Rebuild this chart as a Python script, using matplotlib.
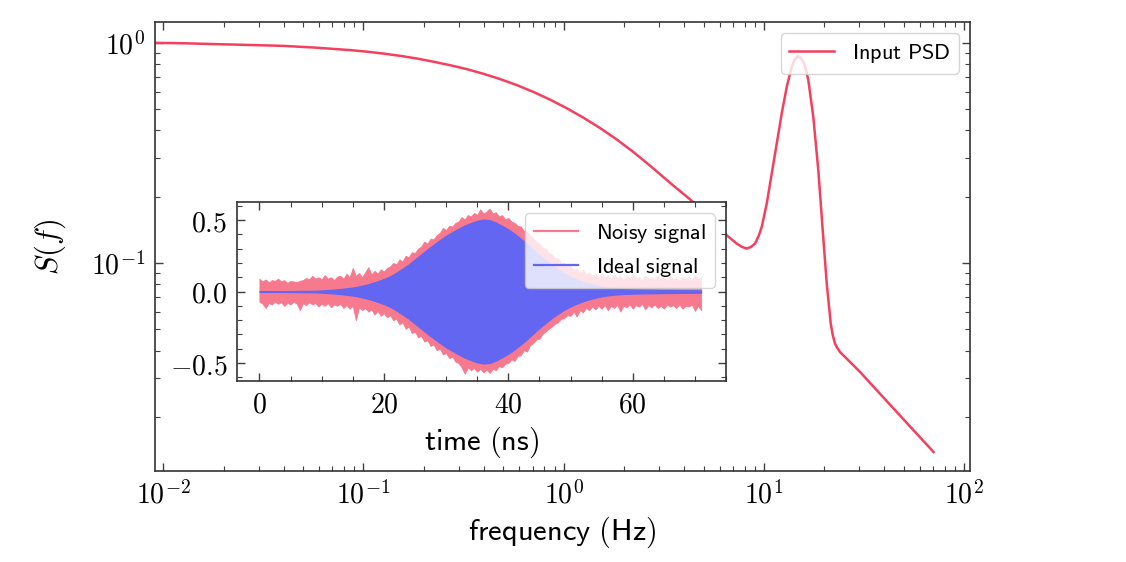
import numpy as np
import matplotlib
matplotlib.use("Agg")
import matplotlib.pyplot as plt
from matplotlib.lines import Line2D
from matplotlib.ticker import FuncFormatter, NullFormatter, AutoMinorLocator

plt.rcParams["mathtext.fontset"] = "cm"

ROSE = "#f43f5e"
ROSE_LIGHT = "#f7798e"
INDIGO = "#6366f1"

# Input PSD
freq_hz = [0.00912, 0.01288, 0.01854, 0.0272, 0.03988, 0.0585, 0.0858, 0.104, 0.1258, 0.1525,
           0.1848, 0.2236, 0.2710, 0.3283, 0.3973, 0.4814, 0.5832, 0.706, 0.855, 1.036,
           1.254, 1.519, 1.841, 2.228, 2.700, 3.398, 4.277, 5.08, 5.77, 6.52,
           7.31, 7.75, 8.21, 8.62, 9.03, 9.40, 9.75, 10.33, 10.94, 11.59,
           12.27, 13.00, 13.77, 14.25, 14.75, 15.24, 15.73, 16.23, 16.66, 17.64,
           18.69, 19.66, 20.59, 21.56, 22.08, 22.65, 23.31, 23.99, 30.18, 40.24,
           53.63, 70.36]
psd = [1.000, 0.9954, 0.9865, 0.978, 0.969, 0.9506, 0.927, 0.912, 0.894, 0.873,
       0.849, 0.821, 0.7916, 0.7595, 0.7236, 0.6846, 0.6427, 0.5984, 0.5521, 0.5047,
       0.4571, 0.4102, 0.3639, 0.3192, 0.2767, 0.2312, 0.1945, 0.1671, 0.150, 0.1336,
       0.1225, 0.1184, 0.1162, 0.1183, 0.1225, 0.1322, 0.1457, 0.1862, 0.255, 0.349,
       0.4777, 0.631, 0.778, 0.839, 0.870, 0.856, 0.820, 0.751, 0.677, 0.461,
       0.2638, 0.1408, 0.0806, 0.0530, 0.0469, 0.0430, 0.04095, 0.0394, 0.0320, 0.02404,
       0.01809, 0.01383]

# Inset: envelope of the ideal pulse, one value per ns
ideal_t_ns = list(range(72))
ideal_env = [0.003, 0.003, 0.003, 0.003, 0.003, 0.004, 0.004, 0.005, 0.005, 0.006,
             0.008, 0.011, 0.014, 0.018, 0.023, 0.028, 0.036, 0.046, 0.058, 0.072,
             0.088, 0.106, 0.132, 0.16, 0.19, 0.225, 0.26, 0.295, 0.328, 0.36,
             0.39, 0.415, 0.44, 0.462, 0.48, 0.495, 0.504, 0.5, 0.483, 0.46,
             0.435, 0.405, 0.37, 0.335, 0.295, 0.255, 0.22, 0.185, 0.155, 0.127,
             0.104, 0.085, 0.068, 0.055, 0.043, 0.034, 0.027, 0.022, 0.019, 0.016,
             0.015, 0.014, 0.013, 0.013, 0.012, 0.011, 0.011, 0.010, 0.010, 0.009,
             0.009, 0.008]

# Inset: extent of the noisy signal, every 0.5 ns
noisy_t_ns = [i * 0.5 for i in range(143)]
noisy_upper = [0.09, 0.07, 0.085, 0.065, 0.08, 0.075, 0.09, 0.07, 0.08, 0.06, 0.075, 0.07, 0.065,
               0.075, 0.08, 0.095, 0.085, 0.11, 0.09, 0.1, 0.085, 0.115, 0.09, 0.1, 0.08, 0.105,
               0.11, 0.09, 0.125, 0.1, 0.165, 0.11, 0.13, 0.1, 0.135, 0.17, 0.12, 0.145, 0.125, 0.155,
               0.14, 0.165,
               0.175, 0.2, 0.19, 0.225, 0.21, 0.25,
               0.24, 0.275, 0.27, 0.3, 0.315, 0.35, 0.335, 0.37, 0.365, 0.395,
               0.41, 0.445, 0.43, 0.46, 0.455, 0.48,
               0.49, 0.52, 0.505, 0.535, 0.525, 0.55, 0.535, 0.575, 0.545, 0.56,
               0.58, 0.545, 0.555, 0.525, 0.535, 0.505, 0.515, 0.49,
               0.48, 0.46, 0.455, 0.425, 0.42, 0.39, 0.375, 0.35, 0.335, 0.31, 0.3,
               0.27, 0.26, 0.235, 0.23, 0.2, 0.2, 0.175, 0.18, 0.15, 0.16,
               0.13, 0.155, 0.12, 0.135, 0.11, 0.125, 0.1, 0.13, 0.095, 0.115,
               0.09, 0.12, 0.095, 0.105, 0.085, 0.11, 0.09, 0.125, 0.095, 0.1,
               0.08, 0.11, 0.09, 0.1, 0.085, 0.115, 0.09, 0.1, 0.08, 0.11,
               0.085, 0.095, 0.08, 0.105, 0.09, 0.1, 0.08, 0.115, 0.09, 0.1]
noisy_lower = [-0.07, -0.085, -0.115, -0.08, -0.09, -0.07, -0.085, -0.075, -0.1, -0.08, -0.09, -0.07, -0.085,
               -0.13, -0.08, -0.095, -0.075, -0.09, -0.08, -0.105, -0.085, -0.1, -0.08, -0.11, -0.09, -0.1,
               -0.085, -0.115, -0.095, -0.12, -0.1, -0.2, -0.11, -0.13, -0.115, -0.14, -0.125, -0.16,
               -0.135, -0.17, -0.15, -0.18,
               -0.165, -0.2, -0.19, -0.23, -0.215, -0.26,
               -0.245, -0.29, -0.28, -0.32, -0.31, -0.35, -0.34, -0.38, -0.37, -0.41,
               -0.4, -0.44, -0.43, -0.465, -0.455, -0.49,
               -0.5, -0.53, -0.575, -0.53, -0.55, -0.535, -0.56, -0.54, -0.565, -0.545,
               -0.57, -0.54, -0.55, -0.52, -0.53, -0.505, -0.5, -0.475,
               -0.485, -0.45, -0.445, -0.41, -0.42, -0.375, -0.36, -0.335, -0.33, -0.295, -0.28,
               -0.26, -0.245, -0.225, -0.215, -0.19, -0.185, -0.165, -0.17, -0.14, -0.175,
               -0.13, -0.145, -0.115, -0.13, -0.105, -0.125, -0.1, -0.12, -0.095, -0.13,
               -0.1, -0.115, -0.09, -0.14, -0.1, -0.11, -0.09, -0.12, -0.095, -0.105,
               -0.085, -0.125, -0.095, -0.11, -0.09, -0.115, -0.1, -0.12, -0.09, -0.105,
               -0.095, -0.115, -0.09, -0.12, -0.1, -0.105, -0.09, -0.135, -0.1, -0.13]


def style_ticks(ax, size):
    ax.tick_params(which="both", direction="in", top=True, right=True,
                   labelsize=size, pad=7, color="0.25")
    ax.tick_params(which="major", length=6, width=1.0)
    ax.tick_params(which="minor", length=3.5, width=0.8)
    for sp in ax.spines.values():
        sp.set_linewidth(1.2)
        sp.set_color("0.2")


fig = plt.figure(figsize=(11.26, 5.62), dpi=100)

ax = fig.add_axes([0.1377, 0.162, 0.7238, 0.799])
ax.plot(freq_hz, psd, color=ROSE, lw=1.8, label=r"$\mathsf{Input\ PSD}$")
ax.set_xscale("log")
ax.set_yscale("log")
ax.set_xlim(0.0091, 107)
ax.set_ylim(0.01135, 1.245)
pow_fmt = FuncFormatter(lambda v, p: r"$10^{%d}$" % round(np.log10(v)))
ax.xaxis.set_major_formatter(pow_fmt)
ax.yaxis.set_major_formatter(pow_fmt)
ax.xaxis.set_minor_formatter(NullFormatter())
ax.yaxis.set_minor_formatter(NullFormatter())
style_ticks(ax, 20)
ax.set_xlabel(r"$\mathsf{frequency\ (Hz)}$", fontsize=22, labelpad=4)
ax.set_ylabel(r"$S(f)$", fontsize=22)
ax.yaxis.set_label_coords(-0.107, 0.5)
ax.legend(loc="upper right", fontsize=16)

ins = fig.add_axes([0.2105, 0.322, 0.4343, 0.3185])
ins.fill_between(noisy_t_ns, noisy_lower, noisy_upper, color=ROSE_LIGHT, lw=0.6)
env = np.array(ideal_env)
ins.fill_between(ideal_t_ns, -env, env, color=INDIGO, lw=0.8)
ins.set_xlim(-3.6, 75)
ins.set_ylim(-0.626, 0.626)
ins.set_xticks([0, 20, 40, 60])
ins.set_yticks([-0.5, 0.0, 0.5])
ins.xaxis.set_major_formatter(FuncFormatter(lambda v, p: r"$%d$" % round(v)))
ins.yaxis.set_major_formatter(FuncFormatter(lambda v, p: r"$%.1f$" % v))
ins.xaxis.set_minor_locator(AutoMinorLocator(4))
ins.yaxis.set_minor_locator(AutoMinorLocator(5))
style_ticks(ins, 20)
ins.set_xlabel(r"$\mathsf{time\ (ns)}$", fontsize=22, labelpad=4)
handles = [Line2D([], [], color=ROSE_LIGHT, lw=1.6), Line2D([], [], color=INDIGO, lw=1.6)]
ins.legend(handles, [r"$\mathsf{Noisy\ signal}$", r"$\mathsf{Ideal\ signal}$"],
           loc="upper right", fontsize=16)

fig.savefig("out.png", dpi=100)
